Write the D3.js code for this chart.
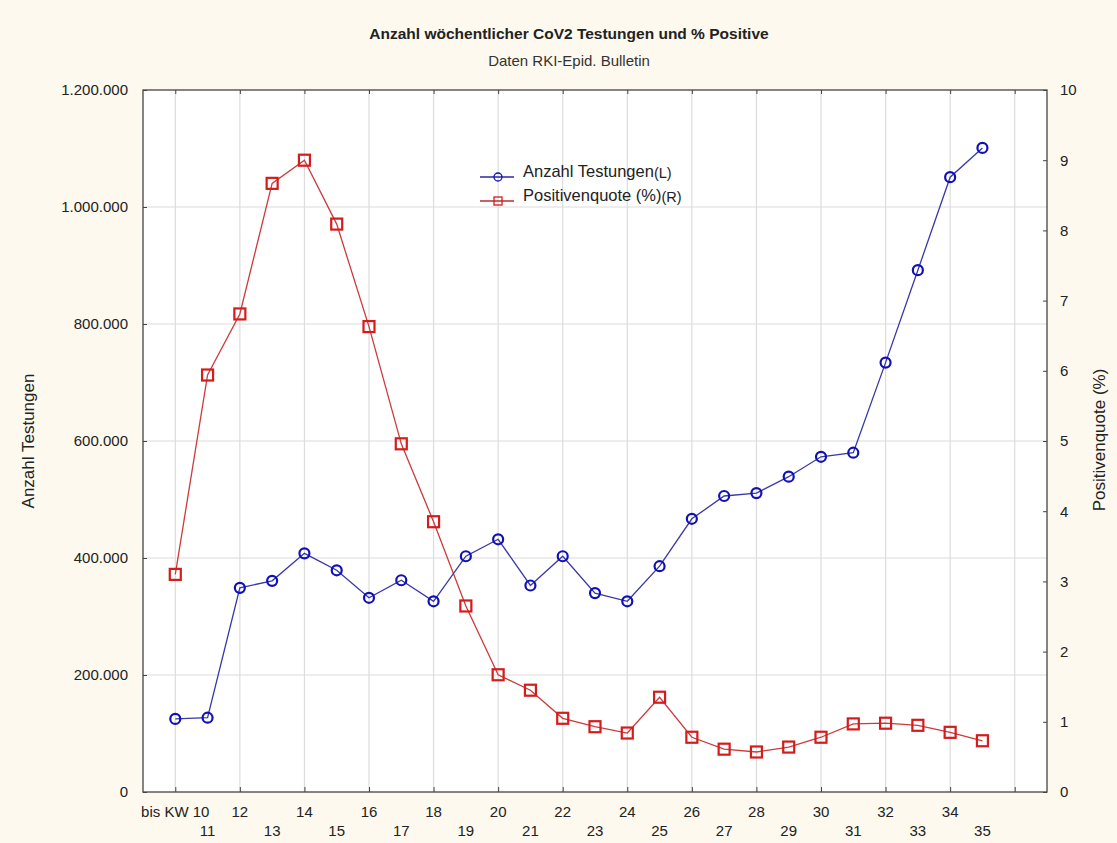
<!DOCTYPE html>
<html>
<head>
<meta charset="utf-8">
<script src="https://cdn.jsdelivr.net/npm/d3@7"></script>
<style>
  body { margin: 0; background: #fdf9ee; }
  svg { display: block; font-family: "Liberation Sans", Arial, sans-serif; }
</style>
</head>
<body>
<div id="chart"></div>
<script>
// Kalenderwochen
const weeks = [10, 11, 12, 13, 14, 15, 16, 17, 18, 19, 20, 21, 22, 23, 24, 25, 26, 27, 28, 29, 30, 31, 32, 33, 34, 35];
// Anzahl Testungen (linke Achse)
const tests = [125000, 127000, 349000, 361000, 408000, 379000, 332000, 362000, 326000, 403000, 432000, 353000, 403000, 340000, 326000, 386000, 467000, 506000, 511000, 539000, 573000, 580000, 734000, 892000, 1051000, 1101000];
// Positivenquote in % (rechte Achse)
const positive = [3.10, 5.94, 6.81, 8.67, 9.00, 8.09, 6.63, 4.96, 3.85, 2.65, 1.67, 1.45, 1.05, 0.93, 0.84, 1.35, 0.78, 0.61, 0.57, 0.64, 0.78, 0.97, 0.98, 0.95, 0.85, 0.73];
const leftTicks = [0, 200000, 400000, 600000, 800000, 1000000, 1200000];
const rightTicks = [0, 1, 2, 3, 4, 5, 6, 7, 8, 9, 10];
const xGrid = [10, 12, 14, 16, 18, 20, 22, 24, 26, 28, 30, 32, 34, 36];

const width = 1117, height = 843;
const margin = { top: 90, right: 70, bottom: 51, left: 143 };
const iw = width - margin.left - margin.right;
const ih = height - margin.top - margin.bottom;

const de = d3.formatLocale({ decimal: ",", thousands: ".", grouping: [3], currency: ["", " €"] });
const fmt = de.format(",d");

const svg = d3.select("#chart").append("svg")
  .attr("width", width).attr("height", height);

svg.append("rect").attr("width", width).attr("height", height).attr("fill", "#fdf9ee");

// Titel
svg.append("text").attr("x", 569).attr("y", 39).attr("text-anchor", "middle")
  .attr("font-size", 15.5).attr("font-weight", "bold").attr("fill", "#222")
  .text("Anzahl wöchentlicher CoV2 Testungen und % Positive");
svg.append("text").attr("x", 569).attr("y", 66).attr("text-anchor", "middle")
  .attr("font-size", 15).attr("fill", "#333")
  .text("Daten RKI-Epid. Bulletin");

const g = svg.append("g").attr("transform", `translate(${margin.left},${margin.top})`);

const x = d3.scaleLinear().domain([9, 37]).range([0, iw]);
const yL = d3.scaleLinear().domain([0, 1200000]).range([ih, 0]);
const yR = d3.scaleLinear().domain([0, 10]).range([ih, 0]);

g.append("rect").attr("width", iw).attr("height", ih).attr("fill", "#fff");

// Gitterlinien
g.append("g").selectAll("line").data(xGrid).join("line")
  .attr("x1", d => x(d)).attr("x2", d => x(d)).attr("y1", 0).attr("y2", ih)
  .attr("stroke", "#dcdcdc").attr("stroke-width", 1.2);
g.append("g").selectAll("line").data(leftTicks.slice(1, -1)).join("line")
  .attr("x1", 0).attr("x2", iw).attr("y1", d => yL(d)).attr("y2", d => yL(d))
  .attr("stroke", "#dcdcdc").attr("stroke-width", 1.2);

// Achsen
const axL = g.append("g").call(d3.axisLeft(yL).tickValues(leftTicks).tickFormat(fmt).tickSizeInner(-4).tickSizeOuter(0).tickPadding(15));
const axR = g.append("g").attr("transform", `translate(${iw},0)`)
  .call(d3.axisRight(yR).tickValues(rightTicks).tickSizeInner(-4).tickSizeOuter(0).tickPadding(13));
const axB = g.append("g").attr("transform", `translate(0,${ih})`)
  .call(d3.axisBottom(x).tickValues(xGrid).tickFormat("").tickSizeInner(-5).tickSizeOuter(0));
const axT = g.append("g")
  .call(d3.axisTop(x).tickValues(xGrid).tickFormat("").tickSizeInner(-4).tickSizeOuter(0));
[axL, axR, axB, axT].forEach(a => {
  a.select(".domain").remove();
  a.selectAll("line").attr("stroke", "#444");
  a.selectAll("text").attr("font-size", 15).attr("fill", "#222").attr("font-family", "Liberation Sans, Arial, sans-serif");
});

g.append("rect").attr("width", iw).attr("height", ih).attr("fill", "none")
  .attr("stroke", "#444").attr("stroke-width", 1.3);

// x-Beschriftungen in zwei Zeilen
g.append("g").selectAll("text").data(weeks).join("text")
  .attr("x", d => x(d))
  .attr("y", d => ih + (d % 2 === 0 ? 25 : 44))
  .attr("text-anchor", "middle").attr("font-size", 15).attr("fill", "#222")
  .text(d => d === 10 ? "bis KW 10" : d);

// Achsentitel
svg.append("text").attr("transform", "translate(34,441) rotate(-90)")
  .attr("text-anchor", "middle").attr("font-size", 17).attr("fill", "#222").text("Anzahl Testungen");
svg.append("text").attr("transform", "translate(1105,440) rotate(-90)")
  .attr("text-anchor", "middle").attr("font-size", 17).attr("fill", "#222").text("Positivenquote (%)");

// Linien
const blue = "#1010b8", red = "#d41c1c";
const lineL = d3.line().x((d, i) => x(weeks[i])).y(d => yL(d));
const lineR = d3.line().x((d, i) => x(weeks[i])).y(d => yR(d));

g.append("path").datum(positive).attr("d", lineR).attr("fill", "none")
  .attr("stroke", "#cc3b3b").attr("stroke-width", 1.3);
g.append("path").datum(tests).attr("d", lineL).attr("fill", "none")
  .attr("stroke", "#3838a8").attr("stroke-width", 1.3);

g.append("g").selectAll("rect").data(positive).join("rect")
  .attr("x", (d, i) => x(weeks[i]) - 5.5).attr("y", d => yR(d) - 5.5)
  .attr("width", 11).attr("height", 11).attr("fill", "none")
  .attr("stroke", red).attr("stroke-width", 2.2);
g.append("g").selectAll("circle").data(tests).join("circle")
  .attr("cx", (d, i) => x(weeks[i])).attr("cy", d => yL(d)).attr("r", 5)
  .attr("fill", "none").attr("stroke", blue).attr("stroke-width", 2.2);

// Legende
const leg = svg.append("g").attr("transform", "translate(480,177)");
leg.append("line").attr("x1", 0).attr("x2", 34).attr("y1", 0).attr("y2", 0).attr("stroke", "#2a2aa0").attr("stroke-width", 1.3);
leg.append("circle").attr("cx", 18).attr("cy", 0).attr("r", 4).attr("fill", "none").attr("stroke", blue).attr("stroke-width", 1.3);
const t1 = leg.append("text").attr("x", 43).attr("y", 0).attr("font-size", 16.5).attr("fill", "#222");
t1.append("tspan").text("Anzahl Testungen");
t1.append("tspan").attr("font-size", 14.5).attr("dy", 1).text("(L)");
leg.append("line").attr("x1", 0).attr("x2", 34).attr("y1", 24).attr("y2", 24).attr("stroke", "#b82e2e").attr("stroke-width", 1.3);
leg.append("rect").attr("x", 14).attr("y", 20).attr("width", 8).attr("height", 8).attr("fill", "none").attr("stroke", red).attr("stroke-width", 1.3);
const t2 = leg.append("text").attr("x", 43).attr("y", 24).attr("font-size", 16.5).attr("fill", "#222");
t2.append("tspan").text("Positivenquote (%)");
t2.append("tspan").attr("font-size", 14.5).attr("dy", 1).text("(R)");
</script>
</body>
</html>
